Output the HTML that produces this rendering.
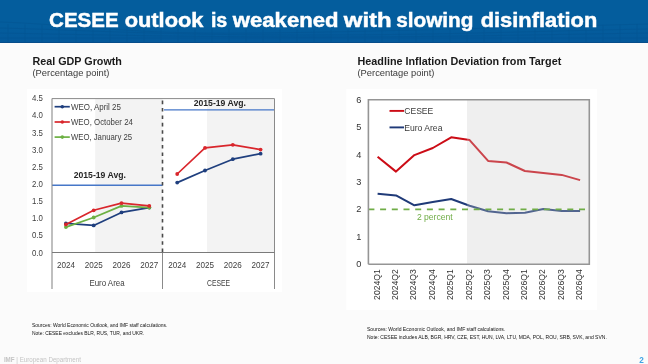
<!DOCTYPE html>
<html><head><meta charset="utf-8"><style>
html,body{margin:0;padding:0;background:#fff;}
body{width:648px;height:364px;overflow:hidden;position:relative;font-family:"Liberation Sans", sans-serif;filter:blur(0.35px);}
#hdr{position:absolute;left:0;top:0;width:648px;height:43px;}
#hdr svg{position:absolute;left:0;top:0}
#main{position:absolute;left:0;top:0}
</style></head><body>
<div id="hdr">
<svg width="648" height="43" viewBox="0 0 648 43">
<defs><linearGradient id="hg" x1="0" y1="0" x2="0" y2="1"><stop offset="0" stop-color="#045d9d"/><stop offset="0.6" stop-color="#045d9d"/><stop offset="1" stop-color="#04589a"/></linearGradient></defs>
<rect width="648" height="43" fill="url(#hg)"/>
<g stroke="#03508c" stroke-width="0.7" fill="none" opacity="0.55">
<path d="M0,22 C60,24 120,32 200,33 S420,30 648,24"/>
<path d="M0,28 C80,30 160,35 300,35 S500,32 648,29"/>
<path d="M0,33 C100,35 200,37 320,37 S520,35 648,33"/>
<path d="M0,38 L648,38"/>
<path d="M8,24.1 L8,43"/>
<path d="M25,24.5 L25,43"/>
<path d="M42,24.8 L42,43"/>
<path d="M59,25.1 L59,43"/>
<path d="M76,25.4 L76,43"/>
<path d="M93,25.7 L93,43"/>
<path d="M110,26.0 L110,43"/>
<path d="M127,26.4 L127,43"/>
<path d="M144,26.7 L144,43"/>
<path d="M161,27.0 L161,43"/>
<path d="M178,27.3 L178,43"/>
<path d="M195,27.6 L195,43"/>
<path d="M212,27.9 L212,43"/>
<path d="M229,28.2 L229,43"/>
<path d="M246,28.6 L246,43"/>
<path d="M263,28.9 L263,43"/>
<path d="M280,29.2 L280,43"/>
<path d="M297,29.5 L297,43"/>
<path d="M314,29.8 L314,43"/>
<path d="M331,29.9 L331,43"/>
<path d="M348,29.6 L348,43"/>
<path d="M365,29.2 L365,43"/>
<path d="M382,28.9 L382,43"/>
<path d="M399,28.6 L399,43"/>
<path d="M416,28.3 L416,43"/>
<path d="M433,28.0 L433,43"/>
<path d="M450,27.7 L450,43"/>
<path d="M467,27.4 L467,43"/>
<path d="M484,27.0 L484,43"/>
<path d="M501,26.7 L501,43"/>
<path d="M518,26.4 L518,43"/>
<path d="M535,26.1 L535,43"/>
<path d="M552,25.8 L552,43"/>
<path d="M569,25.5 L569,43"/>
<path d="M586,25.1 L586,43"/>
<path d="M603,24.8 L603,43"/>
<path d="M620,24.5 L620,43"/>
<path d="M637,24.2 L637,43"/>
</g>
<rect y="42" width="648" height="1" fill="#064d8a"/>
</svg>
</div>
<svg id="main" width="648" height="364" viewBox="0 0 648 364" font-family='"Liberation Sans", sans-serif'>
<text x="49.1" y="27.1" font-size="19.8" font-weight="bold" fill="#ffffff" stroke="#ffffff" stroke-width="0.45" textLength="69.5" lengthAdjust="spacingAndGlyphs">CESEE</text>
<text x="124.7" y="27.1" font-size="19.8" font-weight="bold" fill="#ffffff" stroke="#ffffff" stroke-width="0.45" textLength="78.8" lengthAdjust="spacingAndGlyphs">outlook</text>
<text x="210.9" y="27.1" font-size="19.8" font-weight="bold" fill="#ffffff" stroke="#ffffff" stroke-width="0.45" textLength="16.4" lengthAdjust="spacingAndGlyphs">is</text>
<text x="232.8" y="27.1" font-size="19.8" font-weight="bold" fill="#ffffff" stroke="#ffffff" stroke-width="0.45" textLength="105.7" lengthAdjust="spacingAndGlyphs">weakened</text>
<text x="343.8" y="27.1" font-size="19.8" font-weight="bold" fill="#ffffff" stroke="#ffffff" stroke-width="0.45" textLength="47.9" lengthAdjust="spacingAndGlyphs">with</text>
<text x="396.2" y="27.1" font-size="19.8" font-weight="bold" fill="#ffffff" stroke="#ffffff" stroke-width="0.45" textLength="77.3" lengthAdjust="spacingAndGlyphs">slowing</text>
<text x="480.7" y="27.1" font-size="19.8" font-weight="bold" fill="#ffffff" stroke="#ffffff" stroke-width="0.45" textLength="116.6" lengthAdjust="spacingAndGlyphs">disinflation</text>
<rect x="0" y="43" width="648" height="321" fill="#fbfbfb"/>
<rect x="27" y="89" width="255" height="203" fill="#ffffff"/>
<rect x="346.3" y="89" width="250.7" height="221" fill="#ffffff"/>
<rect x="52.0" y="98.6" width="222.5" height="153.9" fill="#ffffff"/>
<rect x="95.2" y="98.6" width="67.3" height="153.9" fill="#f3f3f3"/>
<rect x="207" y="98.6" width="67.5" height="153.9" fill="#f3f3f3"/>
<line x1="52.0" y1="185.3" x2="162.5" y2="185.3" stroke="#4677c8" stroke-width="1.4"/>
<line x1="164" y1="109.9" x2="274.5" y2="109.9" stroke="#4677c8" stroke-width="1.4"/>
<line x1="52.0" y1="98.6" x2="274.5" y2="98.6" stroke="#8a8a8a" stroke-width="1"/>
<line x1="274.5" y1="98.6" x2="274.5" y2="289" stroke="#8a8a8a" stroke-width="1"/>
<line x1="52.0" y1="98.6" x2="52.0" y2="289" stroke="#8a8a8a" stroke-width="1.1"/>
<line x1="52.0" y1="252.5" x2="274.5" y2="252.5" stroke="#7a7a7a" stroke-width="1.2"/>
<line x1="162.5" y1="252.5" x2="162.5" y2="289" stroke="#8a8a8a" stroke-width="1"/>
<line x1="162.5" y1="100.6" x2="162.5" y2="252.5" stroke="#4a4a4a" stroke-width="1.6" stroke-dasharray="3.6,3.8"/>
<polyline points="65.9,223.4 93.7,225.4 121.5,212.4 149.3,207.6" fill="none" stroke="#1f3f7e" stroke-width="1.7" stroke-linejoin="round"/>
<circle cx="65.9" cy="223.4" r="1.9" fill="#1f3f7e"/>
<circle cx="93.7" cy="225.4" r="1.9" fill="#1f3f7e"/>
<circle cx="121.5" cy="212.4" r="1.9" fill="#1f3f7e"/>
<circle cx="149.3" cy="207.6" r="1.9" fill="#1f3f7e"/>
<polyline points="65.9,227.1 93.7,217.5 121.5,205.9 149.3,207.6" fill="none" stroke="#6cb043" stroke-width="1.7" stroke-linejoin="round"/>
<circle cx="65.9" cy="227.1" r="1.9" fill="#6cb043"/>
<circle cx="93.7" cy="217.5" r="1.9" fill="#6cb043"/>
<circle cx="121.5" cy="205.9" r="1.9" fill="#6cb043"/>
<circle cx="149.3" cy="207.6" r="1.9" fill="#6cb043"/>
<polyline points="65.9,224.4 93.7,210.3 121.5,203.1 149.3,205.9" fill="none" stroke="#d9262c" stroke-width="1.7" stroke-linejoin="round"/>
<circle cx="65.9" cy="224.4" r="1.9" fill="#d9262c"/>
<circle cx="93.7" cy="210.3" r="1.9" fill="#d9262c"/>
<circle cx="121.5" cy="203.1" r="1.9" fill="#d9262c"/>
<circle cx="149.3" cy="205.9" r="1.9" fill="#d9262c"/>
<polyline points="177.2,182.6 205.0,170.5 232.8,159.2 260.6,153.7" fill="none" stroke="#1f3f7e" stroke-width="1.7" stroke-linejoin="round"/>
<circle cx="177.2" cy="182.6" r="1.9" fill="#1f3f7e"/>
<circle cx="205.0" cy="170.5" r="1.9" fill="#1f3f7e"/>
<circle cx="232.8" cy="159.2" r="1.9" fill="#1f3f7e"/>
<circle cx="260.6" cy="153.7" r="1.9" fill="#1f3f7e"/>
<polyline points="177.2,174.0 205.0,147.9 232.8,144.8 260.6,149.6" fill="none" stroke="#d9262c" stroke-width="1.7" stroke-linejoin="round"/>
<circle cx="177.2" cy="174.0" r="1.9" fill="#d9262c"/>
<circle cx="205.0" cy="147.9" r="1.9" fill="#d9262c"/>
<circle cx="232.8" cy="144.8" r="1.9" fill="#d9262c"/>
<circle cx="260.6" cy="149.6" r="1.9" fill="#d9262c"/>
<text x="42.9" y="255.5" text-anchor="end" font-size="8.5" fill="#404040" textLength="10.9" lengthAdjust="spacingAndGlyphs">0.0</text>
<text x="42.9" y="238.4" text-anchor="end" font-size="8.5" fill="#404040" textLength="10.9" lengthAdjust="spacingAndGlyphs">0.5</text>
<text x="42.9" y="221.2" text-anchor="end" font-size="8.5" fill="#404040" textLength="10.9" lengthAdjust="spacingAndGlyphs">1.0</text>
<text x="42.9" y="204.1" text-anchor="end" font-size="8.5" fill="#404040" textLength="10.9" lengthAdjust="spacingAndGlyphs">1.5</text>
<text x="42.9" y="186.9" text-anchor="end" font-size="8.5" fill="#404040" textLength="10.9" lengthAdjust="spacingAndGlyphs">2.0</text>
<text x="42.9" y="169.8" text-anchor="end" font-size="8.5" fill="#404040" textLength="10.9" lengthAdjust="spacingAndGlyphs">2.5</text>
<text x="42.9" y="152.6" text-anchor="end" font-size="8.5" fill="#404040" textLength="10.9" lengthAdjust="spacingAndGlyphs">3.0</text>
<text x="42.9" y="135.5" text-anchor="end" font-size="8.5" fill="#404040" textLength="10.9" lengthAdjust="spacingAndGlyphs">3.5</text>
<text x="42.9" y="118.3" text-anchor="end" font-size="8.5" fill="#404040" textLength="10.9" lengthAdjust="spacingAndGlyphs">4.0</text>
<text x="42.9" y="101.2" text-anchor="end" font-size="8.5" fill="#404040" textLength="10.9" lengthAdjust="spacingAndGlyphs">4.5</text>
<text x="65.9" y="268.0" text-anchor="middle" font-size="8.7" fill="#404040" textLength="18.0" lengthAdjust="spacingAndGlyphs">2024</text>
<text x="93.7" y="268.0" text-anchor="middle" font-size="8.7" fill="#404040" textLength="18.0" lengthAdjust="spacingAndGlyphs">2025</text>
<text x="121.5" y="268.0" text-anchor="middle" font-size="8.7" fill="#404040" textLength="18.0" lengthAdjust="spacingAndGlyphs">2026</text>
<text x="149.3" y="268.0" text-anchor="middle" font-size="8.7" fill="#404040" textLength="18.0" lengthAdjust="spacingAndGlyphs">2027</text>
<text x="177.2" y="268.0" text-anchor="middle" font-size="8.7" fill="#404040" textLength="18.0" lengthAdjust="spacingAndGlyphs">2024</text>
<text x="205.0" y="268.0" text-anchor="middle" font-size="8.7" fill="#404040" textLength="18.0" lengthAdjust="spacingAndGlyphs">2025</text>
<text x="232.8" y="268.0" text-anchor="middle" font-size="8.7" fill="#404040" textLength="18.0" lengthAdjust="spacingAndGlyphs">2026</text>
<text x="260.6" y="268.0" text-anchor="middle" font-size="8.7" fill="#404040" textLength="18.0" lengthAdjust="spacingAndGlyphs">2027</text>
<text x="107.0" y="286.4" text-anchor="middle" font-size="8.7" fill="#404040" textLength="35.2" lengthAdjust="spacingAndGlyphs">Euro Area</text>
<text x="218.5" y="286.4" text-anchor="middle" font-size="8.7" fill="#404040" textLength="23.0" lengthAdjust="spacingAndGlyphs">CESEE</text>
<text x="99.8" y="177.9" text-anchor="middle" font-size="8.4" font-weight="bold" fill="#262626" textLength="52.2" lengthAdjust="spacingAndGlyphs">2015-19 Avg.</text>
<text x="219.8" y="106.4" text-anchor="middle" font-size="8.4" font-weight="bold" fill="#262626" textLength="52.2" lengthAdjust="spacingAndGlyphs">2015-19 Avg.</text>
<line x1="54.6" y1="106.7" x2="69.8" y2="106.7" stroke="#1f3f7e" stroke-width="1.7"/>
<circle cx="62.3" cy="106.7" r="1.8" fill="#1f3f7e"/>
<text x="70.9" y="109.8" font-size="8.6" fill="#404040" textLength="50.0" lengthAdjust="spacingAndGlyphs">WEO, April 25</text>
<line x1="54.6" y1="122.0" x2="69.8" y2="122.0" stroke="#d9262c" stroke-width="1.7"/>
<circle cx="62.3" cy="122.0" r="1.8" fill="#d9262c"/>
<text x="70.9" y="125.1" font-size="8.6" fill="#404040" textLength="62.0" lengthAdjust="spacingAndGlyphs">WEO, October 24</text>
<line x1="54.6" y1="137.1" x2="69.8" y2="137.1" stroke="#6cb043" stroke-width="1.7"/>
<circle cx="62.3" cy="137.1" r="1.8" fill="#6cb043"/>
<text x="70.9" y="140.2" font-size="8.6" fill="#404040" textLength="61.2" lengthAdjust="spacingAndGlyphs">WEO, January 25</text>
<text x="32.5" y="64.8" font-size="10.75" font-weight="bold" fill="#1a1a1a">Real GDP Growth</text>
<text x="32.5" y="76.4" font-size="9.35" fill="#3a3a3a">(Percentage point)</text>
<text x="357.5" y="64.8" font-size="10.8" font-weight="bold" fill="#1a1a1a">Headline Inflation Deviation from Target</text>
<text x="357.5" y="76.4" font-size="9.35" fill="#3a3a3a">(Percentage point)</text>
<rect x="368.4" y="99.8" width="220.89999999999998" height="164.39999999999998" fill="#ffffff"/>
<polyline points="377.6,156.8 396.0,171.6 414.4,155.1 432.8,148.0 451.2,137.3 469.6,140.1 488.1,160.9 506.5,162.5 524.9,171.0 543.3,173.0 561.7,174.9 580.1,180.1" fill="none" stroke="#cc0c16" stroke-width="2" stroke-linejoin="round"/>
<polyline points="377.6,193.8 396.0,195.4 414.4,205.3 432.8,202.0 451.2,199.0 469.6,205.8 488.1,211.3 506.5,213.2 524.9,212.7 543.3,208.9 561.7,211.0 580.1,211.0" fill="none" stroke="#1f3a78" stroke-width="2" stroke-linejoin="round"/>
<rect x="467" y="99.8" width="122.29999999999995" height="164.39999999999998" fill="#cacaca" fill-opacity="0.3"/>
<line x1="368.4" y1="209.4" x2="589.3" y2="209.4" stroke="#70ad47" stroke-width="1.9" stroke-dasharray="6,5.7"/>
<polyline points="368.4,264.2 368.4,99.8 589.3,99.8 589.3,264.2 368.4,264.2" fill="none" stroke="#959595" stroke-width="1.6"/>
<text x="358.8" y="267.1" text-anchor="middle" font-size="9.2" fill="#333">0</text>
<text x="358.8" y="239.7" text-anchor="middle" font-size="9.2" fill="#333">1</text>
<text x="358.8" y="212.3" text-anchor="middle" font-size="9.2" fill="#333">2</text>
<text x="358.8" y="184.9" text-anchor="middle" font-size="9.2" fill="#333">3</text>
<text x="358.8" y="157.5" text-anchor="middle" font-size="9.2" fill="#333">4</text>
<text x="358.8" y="130.1" text-anchor="middle" font-size="9.2" fill="#333">5</text>
<text x="358.8" y="102.7" text-anchor="middle" font-size="9.2" fill="#333">6</text>
<text transform="translate(379.6,269.3) rotate(-90)" text-anchor="end" font-size="8.6" fill="#333">2024Q1</text>
<text transform="translate(398.0,269.3) rotate(-90)" text-anchor="end" font-size="8.6" fill="#333">2024Q2</text>
<text transform="translate(416.4,269.3) rotate(-90)" text-anchor="end" font-size="8.6" fill="#333">2024Q3</text>
<text transform="translate(434.8,269.3) rotate(-90)" text-anchor="end" font-size="8.6" fill="#333">2024Q4</text>
<text transform="translate(453.2,269.3) rotate(-90)" text-anchor="end" font-size="8.6" fill="#333">2025Q1</text>
<text transform="translate(471.6,269.3) rotate(-90)" text-anchor="end" font-size="8.6" fill="#333">2025Q2</text>
<text transform="translate(490.1,269.3) rotate(-90)" text-anchor="end" font-size="8.6" fill="#333">2025Q3</text>
<text transform="translate(508.5,269.3) rotate(-90)" text-anchor="end" font-size="8.6" fill="#333">2025Q4</text>
<text transform="translate(526.9,269.3) rotate(-90)" text-anchor="end" font-size="8.6" fill="#333">2026Q1</text>
<text transform="translate(545.3,269.3) rotate(-90)" text-anchor="end" font-size="8.6" fill="#333">2026Q2</text>
<text transform="translate(563.7,269.3) rotate(-90)" text-anchor="end" font-size="8.6" fill="#333">2026Q3</text>
<text transform="translate(582.1,269.3) rotate(-90)" text-anchor="end" font-size="8.6" fill="#333">2026Q4</text>
<text x="434.8" y="220.2" text-anchor="middle" font-size="8.6" fill="#70ad47">2 percent</text>
<line x1="389.5" y1="110.9" x2="404" y2="110.9" stroke="#cc0c16" stroke-width="1.9"/>
<text x="404.2" y="114.0" font-size="8.6" fill="#3a3a3a">CESEE</text>
<line x1="389.5" y1="127.4" x2="404" y2="127.4" stroke="#1f3a78" stroke-width="1.9"/>
<text x="404.2" y="130.5" font-size="8.6" fill="#3a3a3a">Euro Area</text>
<text x="32.0" y="326.6" font-size="5.3" fill="#111" textLength="135.3" lengthAdjust="spacingAndGlyphs">Sources: World Economic Outlook, and IMF staff calculations.</text>
<text x="32.0" y="335.2" font-size="5.3" fill="#111" textLength="112.1" lengthAdjust="spacingAndGlyphs">Note: CESEE excludes BLR, RUS, TUR, and UKR.</text>
<text x="367.0" y="331.0" font-size="5.2" fill="#111" textLength="138.3" lengthAdjust="spacingAndGlyphs">Sources: World Economic Outlook, and IMF staff calculations.</text>
<text x="367.0" y="338.8" font-size="5.2" fill="#111" textLength="239.8" lengthAdjust="spacingAndGlyphs">Note: CESEE includes ALB, BGR, HRV, CZE, EST, HUN, LVA, LTU, MDA, POL, ROU, SRB, SVK, and SVN.</text>
<text x="3.9" y="362.2" font-size="6.7" fill="#c4c4c4" textLength="77" lengthAdjust="spacingAndGlyphs"><tspan font-weight="bold">IMF</tspan> | European Department</text>
<text x="641.5" y="363.2" text-anchor="middle" font-size="8.2" font-weight="bold" fill="#3ea3e4">2</text>
</svg>
</body></html>
